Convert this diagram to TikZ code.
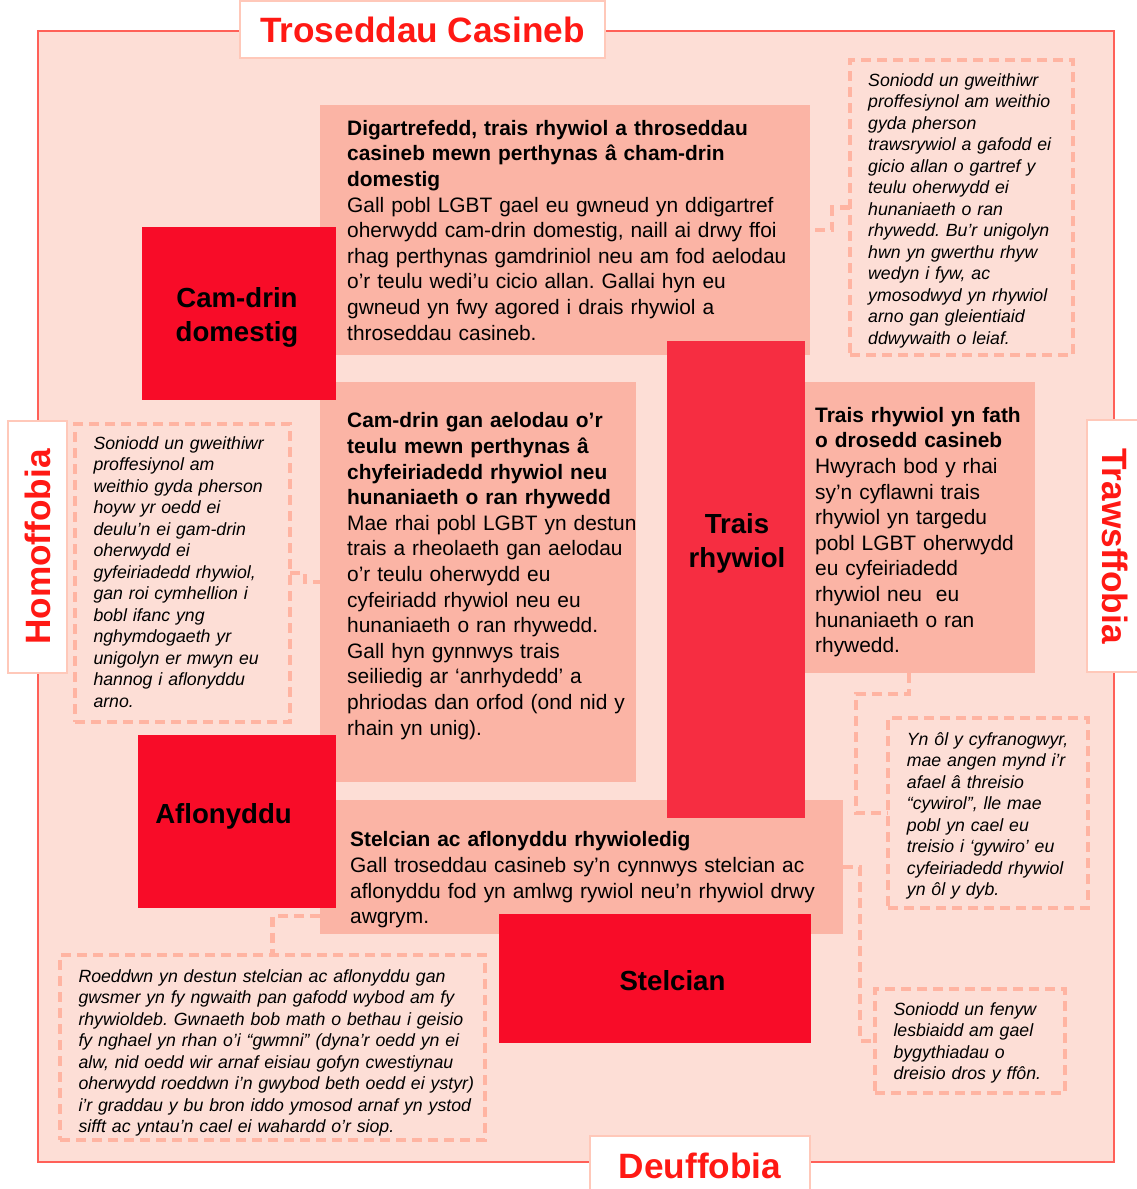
\documentclass[tikz,border=0pt]{standalone}
\usepackage{fontspec}
\setmainfont[Ligatures=NoCommon]{Liberation Sans}
\definecolor{pagepink}{RGB}{253,222,214}
\definecolor{edgered}{RGB}{255,96,88}
\definecolor{salmon}{RGB}{251,180,165}
\definecolor{hotred}{RGB}{248,12,40}
\definecolor{traisred}{RGB}{246,45,65}
\definecolor{dashpink}{RGB}{255,180,162}
\definecolor{titlered}{RGB}{255,25,20}
\definecolor{tabedge}{RGB}{255,200,185}
\frenchspacing
\begin{document}
\begin{tikzpicture}[x=1pt,y=-1pt,
		tab/.style={draw=tabedge,line width=1.5pt,fill=white,inner sep=0pt,text=titlered,font=\fontsize{35.2}{40}\selectfont\bfseries},
		infobox/.style={fill=salmon,anchor=north west,inner sep=0pt,outer sep=0pt},
		hotbox/.style={fill=hotred,anchor=north west,inner sep=0pt,outer sep=0pt},
		quotebox/.style={draw=dashpink,line width=4.5pt,dash pattern=on 10pt off 6pt,anchor=north west,inner sep=0pt,outer sep=0pt},
		link/.style={draw=dashpink,line width=4.5pt,dash pattern=on 10pt off 6pt},
		bodytxt/.style={anchor=north west,inner sep=0pt,text width=600pt,align=left,font=\fontsize{20.9}{25.6}\selectfont},
		quotetxt/.style={anchor=north west,inner sep=0pt,text width=500pt,align=left,font=\fontsize{17.7}{21.5}\selectfont\itshape},
		bigtxt/.style={inner sep=0pt,align=center,font=\fontsize{27.6}{34}\selectfont\bfseries}]
	
	\useasboundingbox (0,0) rectangle (1137,1189);
	\draw [edgered,line width=1.5pt,fill=pagepink] (38,31) rectangle (1114,1162);
	
	\node [tab,minimum width=365pt,minimum height=57pt] (toptab) at (422.5,29.5) {Troseddau Casineb};
	\node [tab,rotate=90,minimum width=252pt,minimum height=59pt] (lefttab) at (37.5,547) {Homoffobia};
	\node [tab,rotate=-90,minimum width=252pt,minimum height=56pt] (righttab) at (1115,546) {Trawsffobia};
	\node [tab,minimum width=220pt,minimum height=60pt] (bottab) at (700,1166) {Deuffobia};
	
	\node [quotebox,minimum width=223pt,minimum height=295pt] (trquote) at (850,60) {};
	\node [quotebox,minimum width=215pt,minimum height=298pt] (lquote) at (75,424) {};
	\node [quotebox,minimum width=200pt,minimum height=190pt] (rquote) at (888,718) {};
	\node [quotebox,minimum width=190pt,minimum height=104pt] (brquote) at (875,989) {};
	\node [quotebox,minimum width=425pt,minimum height=185pt] (blquote) at (60,955) {};
	
	\node [infobox,minimum width=490pt,minimum height=250pt] (dvbox) at (320,105) {};
	\node [infobox,minimum width=316pt,minimum height=400pt] (fambox) at (320,382) {};
	\node [infobox,minimum width=252pt,minimum height=291pt] (rtbox) at (783,382) {};
	\node [infobox,minimum width=523pt,minimum height=134pt] (stbox) at (320,800) {};
	
	\draw [link] (trquote.west) -- ++(-18,0) |- (dvbox.east);
	\draw [link] (lquote.east) -- ++(15,0) |- (fambox.west);
	\draw [link] (rtbox.south) -- ++(0,21) -| ([xshift=-32pt]rquote.west) -- (rquote.west);
	\draw [link] (stbox.east) -- ++(17,0) |- (brquote.west);
	\draw [link] ([yshift=18pt]stbox.south west) -| (blquote.north);
	
	\node [hotbox,minimum width=194pt,minimum height=173pt] (dombox) at (142,227) {};
	\node [hotbox,minimum width=198pt,minimum height=173pt] (aflbox) at (138,735) {};
	\node [hotbox,minimum width=312pt,minimum height=129pt] (stlbox) at (499,914) {};
	\node [hotbox,fill=traisred,minimum width=138pt,minimum height=477pt] (traisbox) at (667,341) {};
	
	\node [bigtxt] (domtxt) at (237,317) {Cam-drin\\domestig};
	\node [bigtxt] (afltxt) at (223.5,816) {Aflonyddu};
	\node [bigtxt] (stltxt) at (672.5,981) {Stelcian};
	\node [bigtxt] (traistxt) at (737,543) {Trais\\rhywiol};
	
	\node [bodytxt] (dvtxt) at (347,120) {\textbf{Digartrefedd, trais rhywiol a throseddau\\casineb mewn perthynas â cham-drin\\domestig}\\Gall pobl LGBT gael eu gwneud yn ddigartref\\oherwydd cam-drin domestig, naill ai drwy ffoi\\rhag perthynas gamdriniol neu am fod aelodau\\o’r teulu wedi’u cicio allan. Gallai hyn eu\\gwneud yn fwy agored i drais rhywiol a\\throseddau casineb.};
	\node [bodytxt] (famtxt) at (347,412.5) {\textbf{Cam-drin gan aelodau o’r\\teulu mewn perthynas â\\chyfeiriadedd rhywiol neu\\hunaniaeth o ran rhywedd}\\Mae rhai pobl LGBT yn destun\\trais a rheolaeth gan aelodau\\o’r teulu oherwydd eu\\cyfeiriadd rhywiol neu eu\\hunaniaeth o ran rhywedd.\\Gall hyn gynnwys trais\\seiliedig ar ‘anrhydedd’ a\\phriodas dan orfod (ond nid y\\rhain yn unig).};
	\node [bodytxt] (rttxt) at (815,407) {\textbf{Trais rhywiol yn fath\\o drosedd casineb}\\Hwyrach bod y rhai\\sy’n cyflawni trais\\rhywiol yn targedu\\pobl LGBT oherwydd\\eu cyfeiriadedd\\rhywiol neu\ \ eu\\hunaniaeth o ran\\rhywedd.};
	\node [bodytxt] (sttxt) at (350,831.5) {\textbf{Stelcian ac aflonyddu rhywioledig}\\Gall troseddau casineb sy’n cynnwys stelcian ac\\aflonyddu fod yn amlwg rywiol neu’n rhywiol drwy\\awgrym.};
	
	\node [quotetxt] (trqtxt) at (868,73) {Soniodd un gweithiwr\\proffesiynol am weithio\\gyda pherson\\trawsrywiol a gafodd ei\\gicio allan o gartref y\\teulu oherwydd ei\\hunaniaeth o ran\\rhywedd. Bu’r unigolyn\\hwn yn gwerthu rhyw\\wedyn i fyw, ac\\ymosodwyd yn rhywiol\\arno gan gleientiaid\\ddwywaith o leiaf.};
	\node [quotetxt] (lqtxt) at (93.3,436) {Soniodd un gweithiwr\\proffesiynol am\\weithio gyda pherson\\hoyw yr oedd ei\\deulu’n ei gam-drin\\oherwydd ei\\gyfeiriadedd rhywiol,\\gan roi cymhellion i\\bobl ifanc yng\\nghymdogaeth yr\\unigolyn er mwyn eu\\hannog i aflonyddu\\arno.};
	\node [quotetxt] (rqtxt) at (906.7,732) {Yn ôl y cyfranogwyr,\\mae angen mynd i’r\\afael â threisio\\“cywirol”, lle mae\\pobl yn cael eu\\treisio i ‘gywiro’ eu\\cyfeiriadedd rhywiol\\yn ôl y dyb.};
	\node [quotetxt] (brqtxt) at (893.3,1002) {Soniodd un fenyw\\lesbiaidd am gael\\bygythiadau o\\dreisio dros y ffôn.};
	\node [quotetxt] (blqtxt) at (78.3,969) {Roeddwn yn destun stelcian ac aflonyddu gan\\gwsmer yn fy ngwaith pan gafodd wybod am fy\\rhywioldeb. Gwnaeth bob math o bethau i geisio\\fy nghael yn rhan o’i “gwmni” (dyna’r oedd yn ei\\alw, nid oedd wir arnaf eisiau gofyn cwestiynau\\oherwydd roeddwn i’n gwybod beth oedd ei ystyr)\\i’r graddau y bu bron iddo ymosod arnaf yn ystod\\sifft ac yntau’n cael ei wahardd o’r siop.};
\end{tikzpicture}
\end{document}
